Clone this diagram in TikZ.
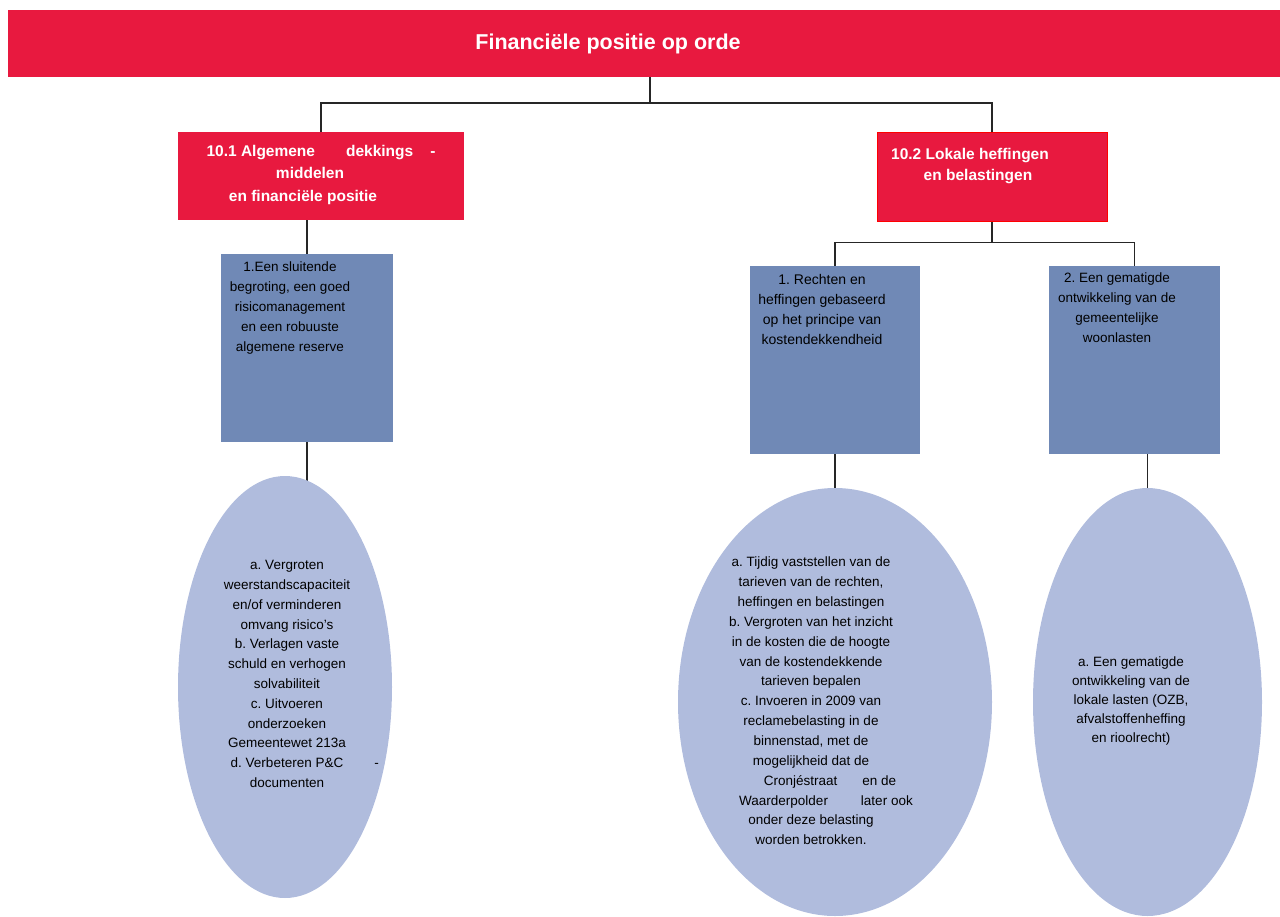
\documentclass[tikz,border=0pt]{standalone}
\usepackage{fontspec}
\setmainfont{Liberation Sans}
\usetikzlibrary{shapes.geometric,backgrounds}
\definecolor{hred}{RGB}{232,25,63}
\definecolor{bbox}{RGB}{112,137,182}
\definecolor{bell}{RGB}{176,188,221}
\begin{document}
\frenchspacing
\begin{tikzpicture}[x=1pt,y=-1pt,
  conn/.style={draw=black!85, line width=1.6pt},
  redbox/.style={rectangle, fill=hred, inner sep=0pt},
  bluebox/.style={rectangle, fill=bbox, inner sep=0pt},
  goal/.style={ellipse, fill=bell, inner sep=0pt},
  wtxt/.style={text=white, font=\bfseries\fontsize{15.5}{22}\selectfont, align=center, inner sep=0pt},
  btxt/.style={text=black, font=\fontsize{13.5}{20}\selectfont, align=center, inner sep=0pt}]
\useasboundingbox (0,0) rectangle (1280,916);

% title bar
\node[redbox, minimum width=1272pt, minimum height=66.5pt] (title) at (644,43.25) {};
\node[text=white, font=\bfseries\fontsize{21.5}{26}\selectfont, inner sep=0pt] (titlet) at (608,44) {Financiële positie op orde};

% second level
\node[redbox, minimum width=286pt, minimum height=88pt] (b1) at (321,176) {};
\node[wtxt, font=\bfseries\fontsize{15.5}{22.5}\selectfont] (b1t) at (310,174.5) {\hspace*{22pt}10.1 Algemene\hspace{31pt}dekkings\hspace{17pt}-\\ middelen\\ en financiële positie\hspace*{14pt}};
\node[redbox, draw=red, line width=0.8pt, minimum width=230pt, minimum height=89pt] (b2) at (992,176.5) {};
\node[wtxt, font=\bfseries\fontsize{15.5}{21}\selectfont] (b2t) at (974,166.5) {10.2 Lokale heffingen\hspace*{8pt}\\ \hspace*{8pt}en belastingen};

% third level
\node[bluebox, minimum width=172pt, minimum height=188pt] (s1) at (307,348) {};
\node[btxt] (s1t) at (290,308.5) {1.Een sluitende\\ begroting, een goed\\ risicomanagement\\ en een robuuste\\ algemene reserve};
\node[bluebox, minimum width=170pt, minimum height=188pt] (s2) at (835,360) {};
\node[btxt, font=\fontsize{14}{20}\selectfont] (s2t) at (822,309) {1. Rechten en\\ heffingen gebaseerd\\ op het principe van\\ kostendekkendheid};
\node[bluebox, minimum width=171pt, minimum height=188pt] (s3) at (1134.5,360) {};
\node[btxt] (s3t) at (1117,308) {2. Een gematigde\\ ontwikkeling van de\\ gemeentelijke\\ woonlasten};

% goals
\node[goal, minimum width=214pt, minimum height=422pt] (e1) at (285,687) {};
\node[btxt, font=\fontsize{13.5}{19.8}\selectfont] (e1t) at (287,674) {a. Vergroten\\ weerstandscapaciteit\\ en/of verminderen\\ omvang risico's\\ b. Verlagen vaste\\ schuld en verhogen\\ solvabiliteit\\ c. Uitvoeren\\ onderzoeken\\ Gemeentewet 213a\\ d. Verbeteren P\&C\rlap{\hspace{31pt}-}\\ documenten};
\node[goal, minimum width=314pt, minimum height=428pt] (e2) at (835,702) {};
\node[btxt, font=\fontsize{13.5}{19.86}\selectfont] (e2t) at (811,701) {a. Tijdig vaststellen van de\\ tarieven van de rechten,\\ heffingen en belastingen\\ b. Vergroten van het inzicht\\ in de kosten die de hoogte\\ van de kostendekkende\\ tarieven bepalen\\ c. Invoeren in 2009 van\\ reclamebelasting in de\\ binnenstad, met de\\ mogelijkheid dat de\\ \hspace*{38pt}Cronjéstraat\hspace{25pt}en de\\ \hspace*{30pt}Waarderpolder\hspace{33pt}later ook\\ onder deze belasting\\ worden betrokken.};
\node[goal, minimum width=229pt, minimum height=428pt] (e3) at (1147.5,702) {};
\node[btxt, font=\fontsize{13.5}{19.2}\selectfont] (e3t) at (1131,701) {a. Een gematigde\\ ontwikkeling van de\\ lokale lasten (OZB,\\ afvalstoffenheffing\\ en rioolrecht)};

% connectors
\begin{scope}[on background layer]
\coordinate (j1) at ([xshift=6pt,yshift=-26.5pt]title.south);
\draw[conn] ([xshift=6pt]title.south) -- (j1);
\draw[conn] (j1) -| (b1.north);
\draw[conn] (j1) -| (b2.north);
\draw[conn] (b1.south -| s1.north) -- (s1.north);
\draw[conn] (s1.south) -- (s1.south |- e1.center);
\coordinate (j2) at ([yshift=-21pt]b2.south);
\draw[conn] (b2.south) -- (j2);
\draw[conn] (j2) -| (s2.north);
\draw[conn] (j2) -| (s3.north);
\draw[conn] (s2.south) -- (e2.center);
\draw[conn] (s3.south -| e3.north) -- (e3.center);
\end{scope}
\end{tikzpicture}
\end{document}
